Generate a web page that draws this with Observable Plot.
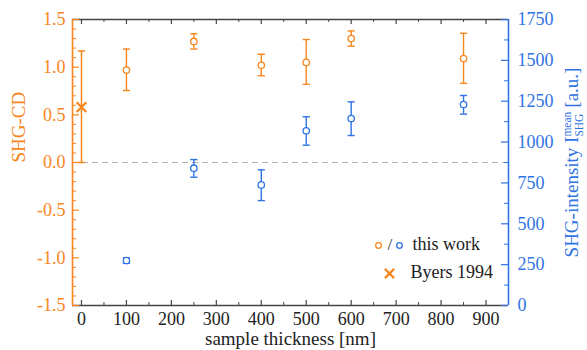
<!DOCTYPE html>
<html><head><meta charset="utf-8">
<script src="https://cdn.jsdelivr.net/npm/d3@7"></script>
<script src="https://cdn.jsdelivr.net/npm/@observablehq/plot@0.6"></script>
<style>body{margin:0;background:#fff} svg text{font-family:'Liberation Serif',serif}</style>
</head><body><div id="chart"></div>
<script>
// ---- data ----
const thickness = [100, 250, 400, 500, 600, 850];
const cdMean = [0.97, 1.27, 1.02, 1.05, 1.30, 1.09];
const cdLow  = [0.755, 1.19, 0.91, 0.82, 1.22, 0.83];
const cdHigh = [1.19, 1.35, 1.135, 1.29, 1.38, 1.355];
const intMean = [275, 840, 738, 1069, 1144, 1230];
const intLow  = [258, 785, 642, 981, 1040, 1171];
const intHigh = [292, 893, 830, 1155, 1246, 1285];
const byersX = [0];
const byersCD = [0.58];
const byersLow = [0.0];
const byersHigh = [1.17];
const xTicks = [0, 100, 200, 300, 400, 500, 600, 700, 800, 900];
const cdTicks = [-1.5, -1.0, -0.5, 0.0, 0.5, 1.0, 1.5];
const intTicks = [0, 250, 500, 750, 1000, 1250, 1500, 1750];
const legendLabels = ["this work", "Byers 1994"];

const orange = "#f7861c";
const blue = "#2f74e3";
const dark = "#444";
const serif = "'Liberation Serif', serif";
const W = 587, H = 350, mL = 72, mR = 79, mT = 19, mB = 45;
const fw = W - mL - mR, fh = H - mT - mB;
const cdMin = -1.5, cdMax = 1.5, intMax = 1750;
const toCD = v => cdMin + v * (cdMax - cdMin) / intMax;
const fromCD = d => Math.round((d - cdMin) * intMax / (cdMax - cdMin));

const cdRows = thickness.map((x, i) => ({x, m: cdMean[i], lo: cdLow[i], hi: cdHigh[i]}));
const intRows = thickness.map((x, i) => ({x, m: toCD(intMean[i]), lo: toCD(intLow[i]), hi: toCD(intHigh[i])}));
const byRows = byersX.map((x, i) => ({x, m: byersCD[i], lo: byersLow[i], hi: byersHigh[i]}));

const cap = {draw(ctx, size) { const w = Math.sqrt(size / Math.PI); ctx.moveTo(-w, 0); ctx.lineTo(w, 0); }};

const xMinor = d3.range(50, 950, 100);
const cdMinor = d3.range(-15, 16).map(k => k / 10).filter(v => Math.abs(v * 2 - Math.round(v * 2)) > 1e-6);
const intMinor = d3.range(125, 1750, 250).map(toCD);

function errorMarks(rows, color, sw) {
  return [
    Plot.ruleX(rows, {x: "x", y1: "lo", y2: "hi", stroke: color, strokeWidth: sw}),
    Plot.dot(rows, {x: "x", y: "lo", symbol: cap, r: 3.6, fill: "none", stroke: color, strokeWidth: sw}),
    Plot.dot(rows, {x: "x", y: "hi", symbol: cap, r: 3.6, fill: "none", stroke: color, strokeWidth: sw})
  ];
}

const chart = Plot.plot({
  width: W, height: H,
  marginLeft: mL, marginRight: mR, marginTop: mT, marginBottom: mB,
  style: {fontFamily: serif, fontSize: "17px", background: "#fff", overflow: "visible"},
  x: {domain: [-20, 950]},
  y: {domain: [cdMin, cdMax]},
  marks: [
    Plot.ruleY([0], {stroke: "#b0b0b0", strokeWidth: 1.2, strokeDasharray: "6,4"}),
    // frame lines
    Plot.ruleY([cdMax, cdMin], {stroke: dark, strokeWidth: 1.6}),
    Plot.ruleX([-20], {stroke: orange, strokeWidth: 1.6}),
    Plot.ruleX([950], {stroke: blue, strokeWidth: 1.6}),
    // x ticks (top and bottom, inward)
    Plot.tickX(xTicks, {x: d => d, stroke: dark, strokeWidth: 1.2, insetTop: fh - 5}),
    Plot.tickX(xTicks, {x: d => d, stroke: dark, strokeWidth: 1.2, insetBottom: fh - 5}),
    Plot.tickX(xMinor, {x: d => d, stroke: dark, strokeWidth: 1, insetTop: fh - 3}),
    Plot.tickX(xMinor, {x: d => d, stroke: dark, strokeWidth: 1, insetBottom: fh - 3}),
    // left ticks
    Plot.tickY(cdTicks, {y: d => d, stroke: orange, strokeWidth: 1.2, insetRight: fw - 7}),
    Plot.tickY(cdMinor, {y: d => d, stroke: orange, strokeWidth: 1, insetRight: fw - 4}),
    // right ticks
    Plot.tickY(intTicks.map(toCD), {y: d => d, stroke: blue, strokeWidth: 1.2, insetLeft: fw - 7}),
    Plot.tickY(intMinor, {y: d => d, stroke: blue, strokeWidth: 1, insetLeft: fw - 4}),
    // axes labels
    Plot.axisX(xTicks, {anchor: "bottom", tickSize: 0, tickPadding: 7, label: null, fill: "#222", fontSize: 18, fontFamily: serif}),
    Plot.axisY(cdTicks, {anchor: "left", tickSize: 0, tickPadding: 7, label: null, fill: orange, tickFormat: d => d.toFixed(1), fontSize: 18, fontFamily: serif}),
    Plot.axisY(intTicks.map(toCD), {anchor: "right", tickSize: 0, tickPadding: 9, label: null, fill: blue, tickFormat: d => String(fromCD(d)), fontSize: 18, fontFamily: serif}),
    Plot.text(["sample thickness [nm]"], {frameAnchor: "bottom", dy: 33, fill: "#222", fontSize: 19, lineAnchor: "middle", fontFamily: serif}),
    Plot.text(["SHG-CD"], {frameAnchor: "left", dx: -54, rotate: -90, fill: orange, fontSize: 19, lineAnchor: "middle", fontFamily: serif}),
    Plot.text(["SHG-intensity I"], {frameAnchor: "right", dx: 63, rotate: -90, fill: blue, fontSize: 19, lineAnchor: "middle", fontFamily: serif}),
    // data
    ...errorMarks(byRows, orange, 1.5),
    Plot.dot(byRows, {x: "x", y: "m", symbol: "times", r: 4.5, stroke: orange, strokeWidth: 2.2}),
    ...errorMarks(cdRows, orange, 1.4),
    Plot.dot(cdRows, {x: "x", y: "m", r: 3.2, fill: "white", stroke: orange, strokeWidth: 1.3}),
    ...errorMarks(intRows, blue, 1.4),
    Plot.dot(intRows, {x: "x", y: "m", r: 3.2, fill: "white", stroke: blue, strokeWidth: 1.3}),
    // legend
    Plot.dot([0], {frameAnchor: "top-left", dx: 306, dy: 226, r: 2.8, fill: "white", stroke: orange, strokeWidth: 1.3}),
    Plot.text(["/"], {frameAnchor: "top-left", dx: 315, dy: 225, fill: "#333", fontSize: 17, lineAnchor: "middle", fontFamily: serif}),
    Plot.dot([0], {frameAnchor: "top-left", dx: 327, dy: 226, r: 2.8, fill: "white", stroke: blue, strokeWidth: 1.3}),
    Plot.text([legendLabels[0]], {frameAnchor: "top-left", dx: 340, dy: 225, textAnchor: "start", fill: "#222", fontSize: 18, lineAnchor: "middle", fontFamily: serif}),
    Plot.dot([0], {frameAnchor: "top-left", dx: 317, dy: 254, symbol: "times", r: 4.3, stroke: orange, strokeWidth: 2.2}),
    Plot.text([legendLabels[1]], {frameAnchor: "top-left", dx: 338, dy: 253, textAnchor: "start", fill: "#222", fontSize: 18, lineAnchor: "middle", fontFamily: serif})
  ]
});
document.getElementById("chart").appendChild(chart);

// add super/subscript to the right axis title and re-centre it
d3.select(chart).selectAll("text").filter(function() { return this.textContent === "SHG-intensity I"; }).each(function() {
  const t = d3.select(this);
  t.text(null).attr("text-anchor", "start");
  t.append("tspan").text("SHG-intensity I");
  const sup = t.append("tspan").attr("font-size", 11.5).attr("dy", -7).text("mean");
  const supW = sup.node().getComputedTextLength();
  const sub = t.append("tspan").attr("font-size", 11.5).attr("dx", -supW).attr("dy", 12).text("SHG");
  const subW = sub.node().getComputedTextLength();
  t.append("tspan").attr("dx", Math.max(0, supW - subW) + 4).attr("dy", -5).text("[a.u.]");
  const bbox = this.getBBox();
  t.attr("x", -(bbox.x + bbox.width / 2) + (+t.attr("x") || 0));
});
</script></body></html>
